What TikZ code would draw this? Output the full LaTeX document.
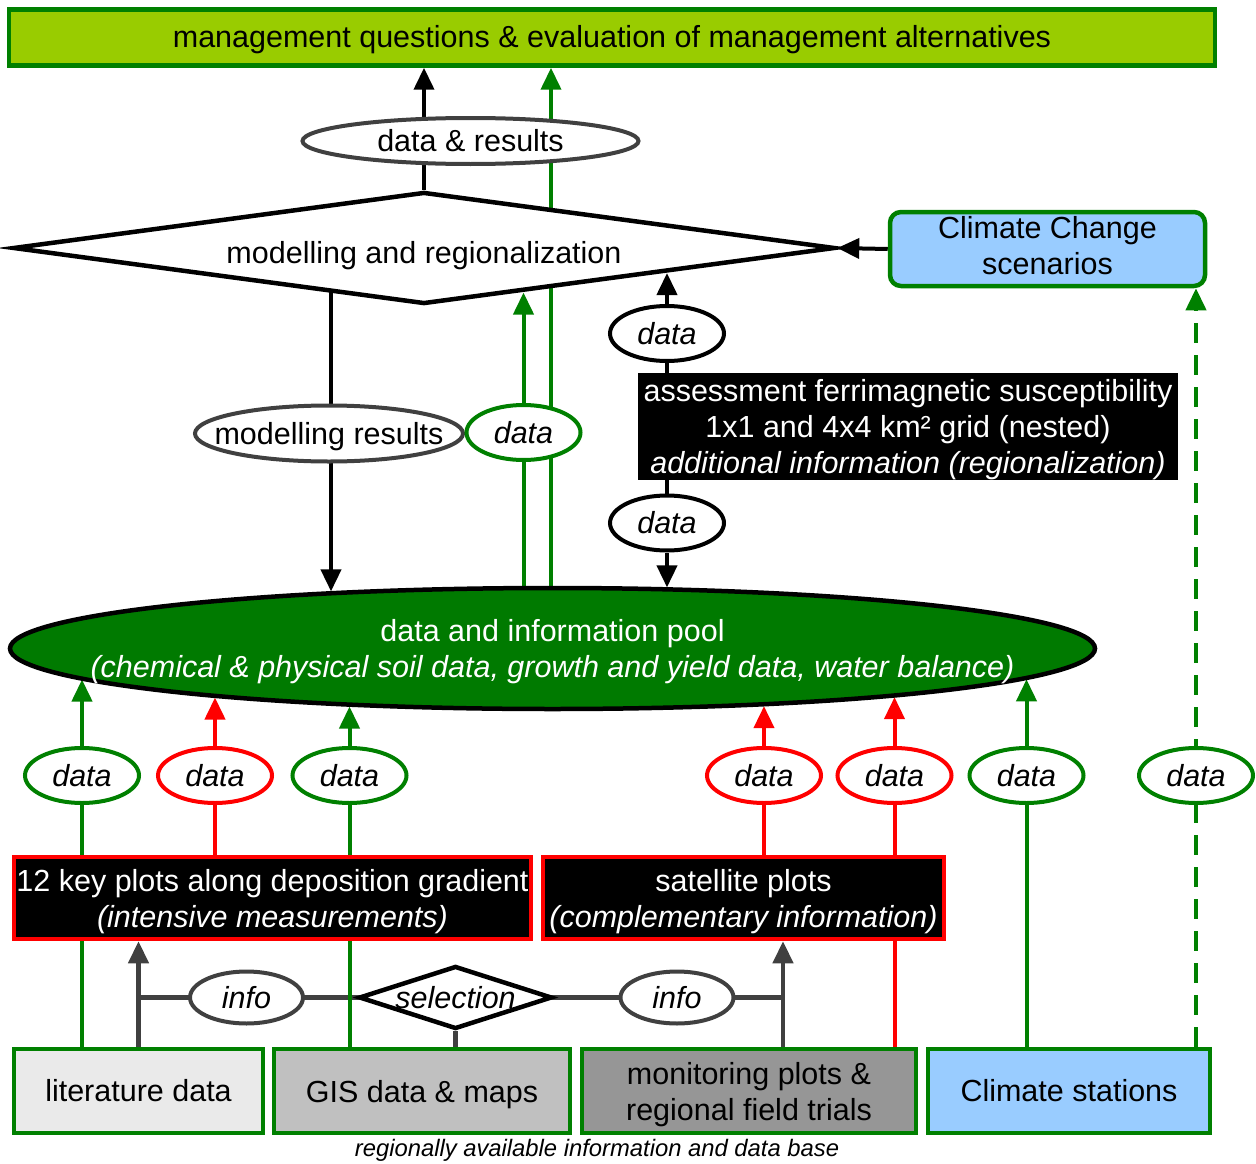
\documentclass[tikz,border=0pt]{standalone}
\usepackage{fontspec}
\setmainfont{Liberation Sans}
\usetikzlibrary{arrows.meta,shapes.geometric,calc}
\definecolor{gbar}{HTML}{99CC00}
\definecolor{gr}{HTML}{008000}
\definecolor{rd}{HTML}{FF0000}
\definecolor{lb}{HTML}{99CCFF}
\definecolor{dg}{HTML}{404040}
\definecolor{litf}{HTML}{EAEAEA}
\definecolor{gisf}{HTML}{C0C0C0}
\definecolor{monf}{HTML}{969696}
\definecolor{poolf}{HTML}{007A00}
\pgfdeclarelayer{bg}
\pgfsetlayers{bg,main}
\newcommand{\zbox}[1]{\makebox[0pt][c]{#1}}
\newcommand{\tophi}[1]{\rule{0pt}{#1pt}}
\newcommand{\botlo}[1]{\rule[-#1pt]{0pt}{0pt}}
\begin{document}
\begin{tikzpicture}[x=1pt,y=-1pt,
  every node/.style={inner sep=0pt, font=\fontsize{30.5}{36}\selectfont, align=center},
  ell/.style={ellipse, draw, fill=white, line width=4pt},
  dataell/.style={ell, minimum width=114pt, minimum height=55pt, font=\fontsize{30.5}{36}\selectfont\itshape},
  box/.style={rectangle, line width=4.5pt, minimum height=84pt},
  blackbox/.style={rectangle, fill=black, text=white, line width=4.5pt},
  tip/.style={-{Triangle[length=22pt,width=20pt]}},
  blk/.style={draw=black, line width=4pt},
  gln/.style={draw=gr, line width=4pt},
  rln/.style={draw=rd, line width=4pt},
  gry/.style={draw=dg, line width=4.5pt},
]
\useasboundingbox (0,0) rectangle (1256,1164);

% ---------- nodes ----------
\node[draw=gr, fill=gbar, line width=4.5pt, minimum width=1206pt, minimum height=56pt] (top) at (612,37.5)
  {\tophi{26}management questions \& evaluation of management alternatives};

\node[ell, draw=dg, minimum width=336pt, minimum height=46pt] (dr) at (470.5,141) {data \& results};

\node[diamond, draw=black, fill=white, line width=4.5pt, shape aspect=7.3,
      minimum width=822pt, minimum height=112pt] (mod) at (424,248)
  {\zbox{\raisebox{-7pt}[22pt][6pt]{modelling and regionalization}}};

\node[draw=gr, fill=lb, line width=4.5pt, rounded corners=11pt,
      minimum width=315pt, minimum height=74pt] (cc) at (1047.5,249) {Climate Change\\scenarios\botlo{8}};

\node[dataell, draw=black] (db1) at (667,333.5) {data};
\node[blackbox, minimum width=540pt, minimum height=107pt] (as) at (908,426.5)
  {\tophi{28}assessment ferrimagnetic susceptibility\\1x1 and 4x4 km² grid (nested)\\\textit{additional information (regionalization)}};
\node[dataell, draw=black] (db2) at (667,523) {data};

\node[ell, draw=dg, minimum width=268pt, minimum height=56pt] (mr) at (329,433.5)
  {\zbox{\raisebox{-3pt}[22pt][6pt]{modelling results}}};
\node[dataell, draw=gr] (dgm) at (523.5,432.5) {data};

\node[ellipse, draw=black, fill=poolf, line width=4.5pt, minimum width=1085pt, minimum height=121pt] (pool) at (552.5,648.5) {};
\node[text=white] (pooltxt) at (552.5,652) {data and information pool\\\textit{(chemical \& physical soil data, growth and yield data, water balance)}};

\node[dataell, draw=gr] (e1) at (82,775.5) {data};
\node[dataell, draw=rd] (e2) at (215,775.5) {data};
\node[dataell, draw=gr] (e3) at (349.5,775.5) {data};
\node[dataell, draw=rd] (e4) at (764,775.5) {data};
\node[dataell, draw=rd] (e5) at (894.5,775.5) {data};
\node[dataell, draw=gr] (e6) at (1026.5,775.5) {data};
\node[dataell, draw=gr] (e7) at (1196,775.5) {data};

\node[blackbox, draw=rd, minimum width=517pt, minimum height=82pt] (kp) at (272.5,898)
  {\tophi{30}12 key plots along deposition gradient\\\textit{(intensive measurements)}};
\node[blackbox, draw=rd, minimum width=401pt, minimum height=82pt] (sp) at (743.5,898)
  {\tophi{30}satellite plots\\\textit{(complementary information)}};

\node[ell, draw=dg, minimum width=113pt, minimum height=52pt, font=\fontsize{30.5}{36}\selectfont\itshape] (il) at (246.5,997.5) {info};
\node[diamond, draw=black, fill=white, line width=4.5pt, shape aspect=3.06,
      minimum width=193pt, minimum height=63pt, font=\fontsize{30.5}{36}\selectfont\itshape] (sel) at (455.5,997.5) {\zbox{selection}};
\node[ell, draw=dg, minimum width=113pt, minimum height=52pt, font=\fontsize{30.5}{36}\selectfont\itshape] (ir) at (677,997.5) {info};

\node[box, draw=gr, fill=litf, minimum width=249pt] (lit) at (138.5,1091) {literature data};
\node[box, draw=gr, fill=gisf, minimum width=296pt, text depth=0pt] (gis) at (422,1091) {GIS data \& maps};
\node[box, draw=gr, fill=monf, minimum width=334pt] (mon) at (749,1091) {\tophi{29}monitoring plots \&\\regional field trials};
\node[box, draw=gr, fill=lb, minimum width=282pt] (cs) at (1069,1091) {Climate stations};

\node[font=\fontsize{23.8}{28}\selectfont\itshape] (cap) at (597,1150) {regionally available information and data base};

% ---------- contact coordinates ----------
\coordinate (mA) at (331,291);
\coordinate (mB) at (523.5,292.5);
\coordinate (mD) at (667,273);
\coordinate (pA) at (331,591.4);
\coordinate (pB) at (523.5,600);
\coordinate (pC) at (551,600);
\coordinate (pD) at (667,587.4);
\coordinate (q1) at (82,679.5);
\coordinate (q2) at (215,697.5);
\coordinate (q3) at (349.5,706.5);
\coordinate (q4) at (764,706.1);
\coordinate (q5) at (894.5,697.1);
\coordinate (q6) at (1026.5,679.3);
\coordinate (mt) at (783,1047);

% ---------- connectors ----------
\begin{pgfonlayer}{bg}
\draw[blk,tip] (mod.north) -- (mod.north |- top.south);
\draw[gln,tip] (pC) -- (pC |- top.south);
\draw[blk,tip] (cc.west) -- (mod.east);
\draw[blk,tip] (mA) -- (pA);
\draw[gln,tip] (pB) -- (mB);
\draw[blk,tip] (db1) -- (mD);
\draw[blk] (db1) -- (db2);
\draw[blk,tip] (db2) -- (pD);
\draw[gln,tip,dash pattern=on 20pt off 12pt] (cs.north -| e7) -- (cc.south -| e7);

\draw[gry] (lit.north |- il) -- (mt |- il);
\draw[gry] (sel.south) -- (sel.south |- gis.north);
\draw[gry,tip] (lit.north) -- (lit.north |- kp.south);
\draw[gry,tip] (mt) -- (mt |- sp.south);

\draw[gln,tip] (lit.north -| e1) -- (q1);
\draw[rln,tip] (kp.north -| e2) -- (q2);
\draw[gln,tip] (gis.north -| e3) -- (q3);
\draw[rln,tip] (sp.north -| e4) -- (q4);
\draw[rln,tip] (mon.north -| e5) -- (q5);
\draw[gln,tip] (cs.north -| e6) -- (q6);
\end{pgfonlayer}
\end{tikzpicture}
\end{document}
